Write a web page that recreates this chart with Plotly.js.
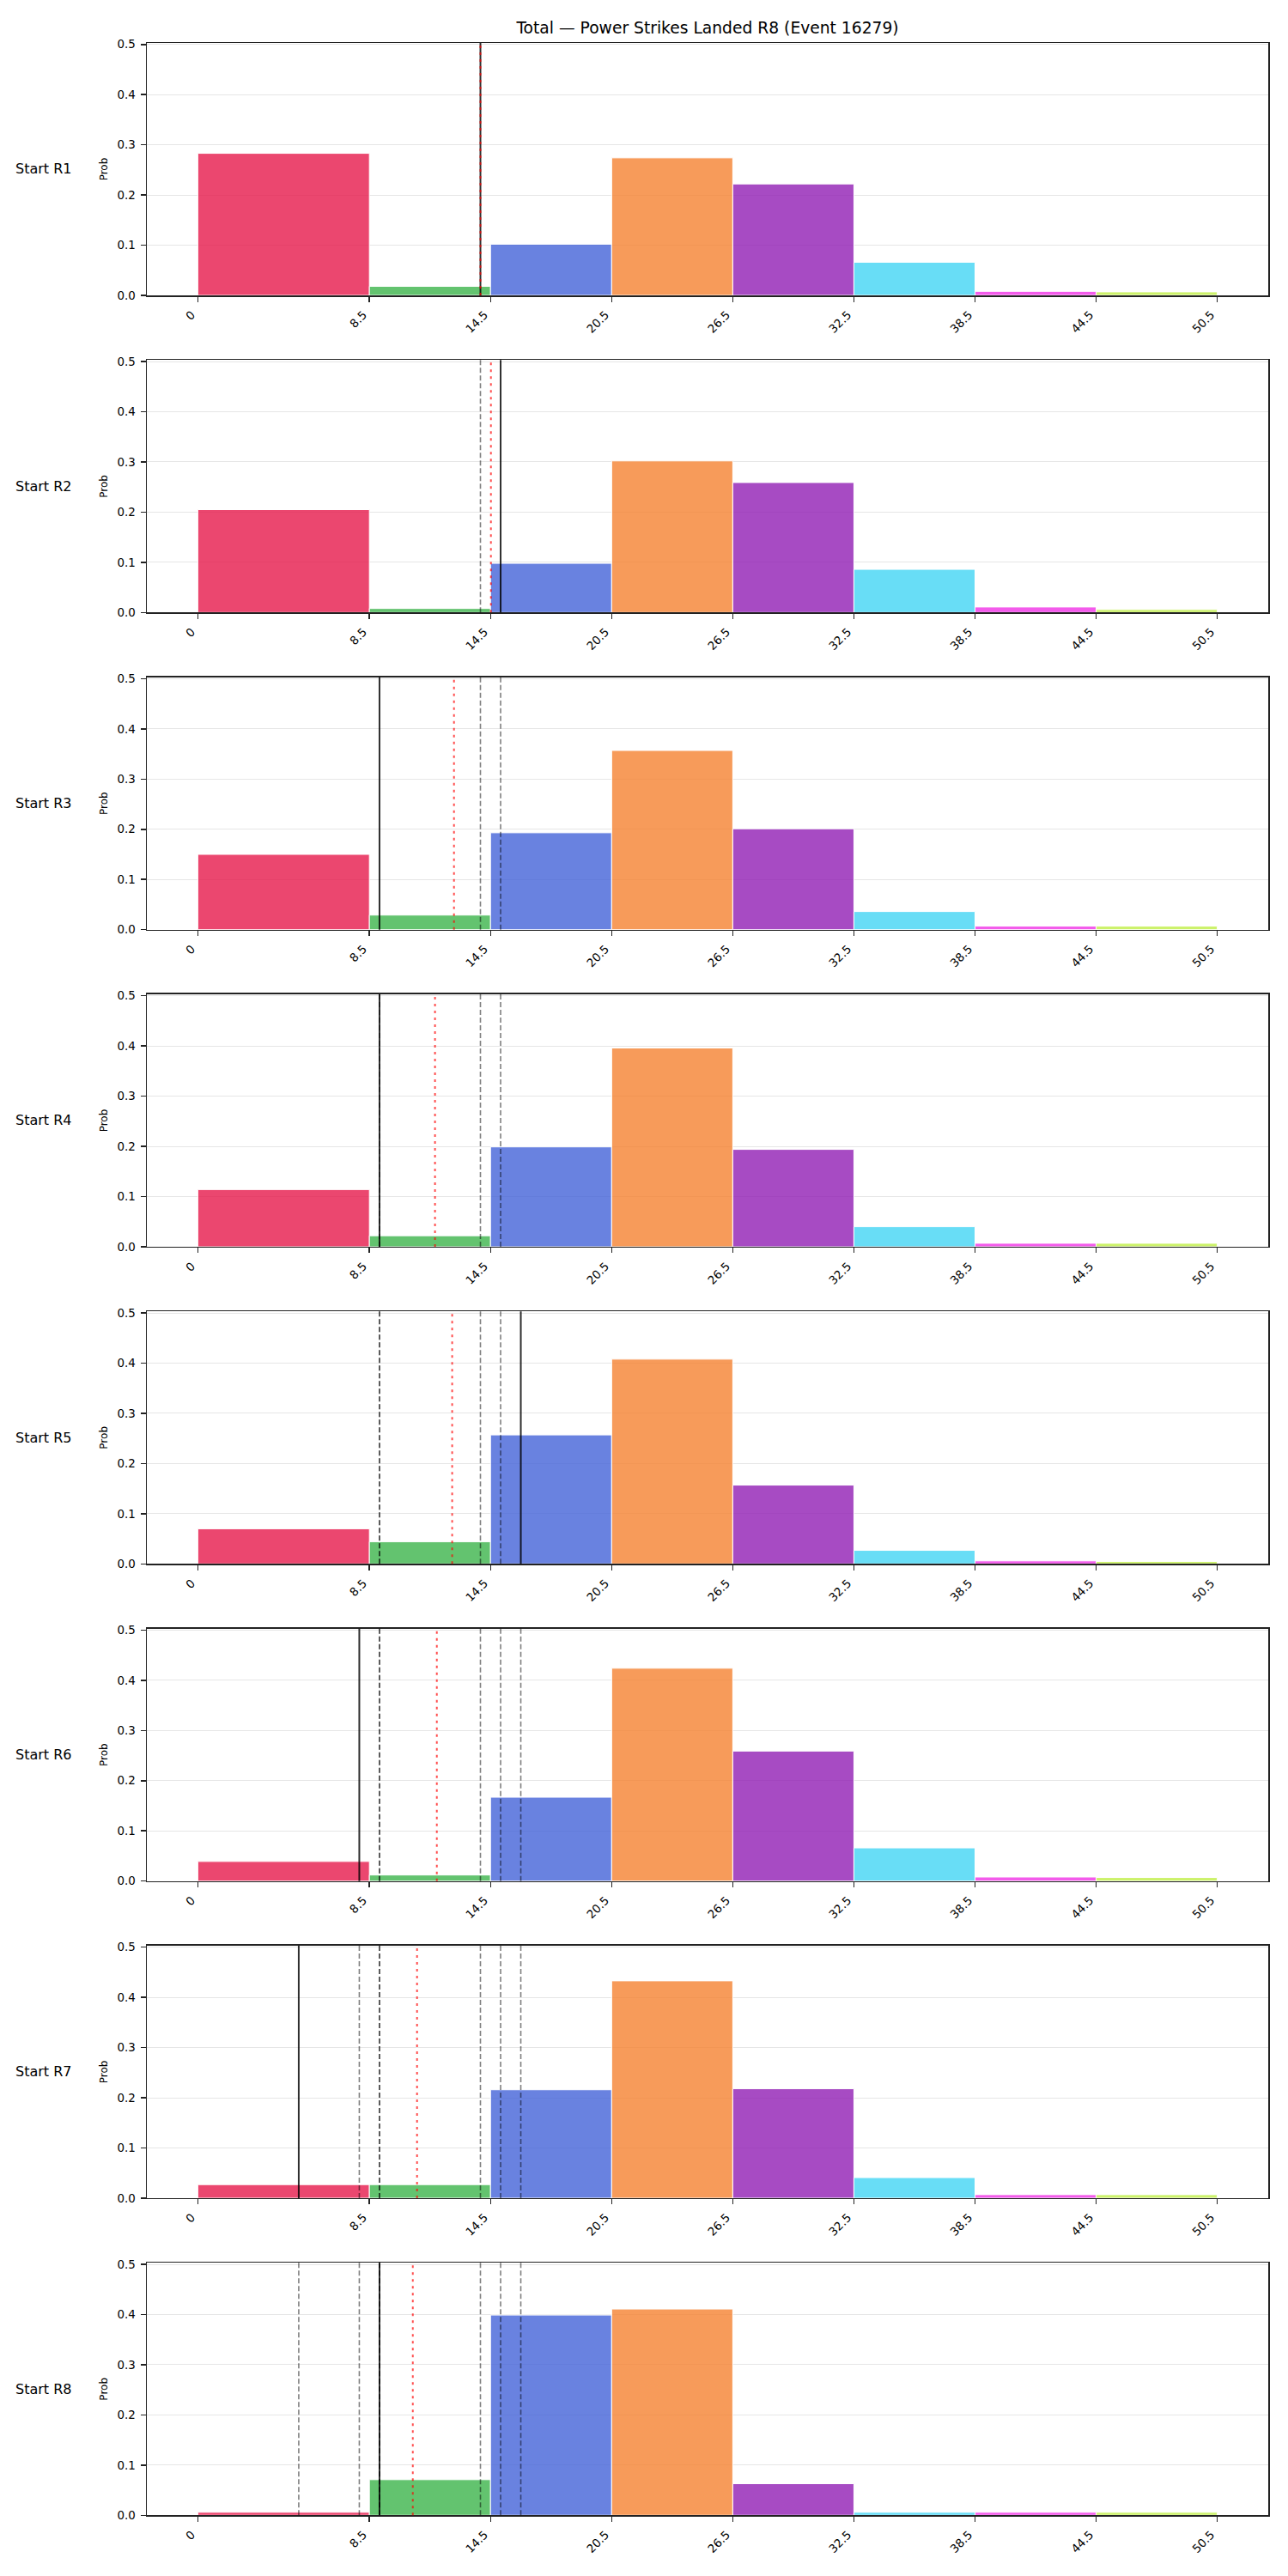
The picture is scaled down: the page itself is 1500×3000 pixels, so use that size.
<!DOCTYPE html>
<html>
<head>
<meta charset="utf-8">
<script src="https://cdn.plot.ly/plotly-3.0.1.min.js"></script>
<style>
  html, body { margin: 0; padding: 0; background: #fff; }
  #chart { width: 1500px; height: 3000px; }
</style>
</head>
<body>
<div id="chart"></div>
<script>
// Bin edges of the strike-count buckets and their tick labels
const binEdges  = [0, 8.5, 14.5, 20.5, 26.5, 32.5, 38.5, 44.5, 50.5];
const binLabels = ['0', '8.5', '14.5', '20.5', '26.5', '32.5', '38.5', '44.5', '50.5'];

// One row per starting round
const roundLabels = ['Start R1', 'Start R2', 'Start R3', 'Start R4', 'Start R5', 'Start R6', 'Start R7', 'Start R8'];

// Probability of each bucket, per starting round
const probR1 = [0.283, 0.018, 0.102, 0.274, 0.222, 0.066, 0.008, 0.007];
const probR2 = [0.205, 0.008, 0.098, 0.302, 0.259, 0.086, 0.011, 0.006];
const probR3 = [0.150, 0.029, 0.193, 0.357, 0.201, 0.036, 0.007, 0.007];
const probR4 = [0.114, 0.022, 0.199, 0.396, 0.194, 0.040, 0.007, 0.007];
const probR5 = [0.070, 0.044, 0.257, 0.408, 0.157, 0.027, 0.006, 0.005];
const probR6 = [0.039, 0.012, 0.167, 0.424, 0.259, 0.066, 0.008, 0.007];
const probR7 = [0.027, 0.027, 0.216, 0.433, 0.218, 0.041, 0.007, 0.007];
const probR8 = [0.006, 0.071, 0.399, 0.411, 0.063, 0.006, 0.006, 0.006];
const roundProbs = [probR1, probR2, probR3, probR4, probR5, probR6, probR7, probR8];

// Marker for each round (solid), earlier rounds' markers are repeated dashed
const roundMarker = [14.0, 15.0, 9.0, 9.0, 16.0, 8.0, 5.0, 9.0];
// Projected line for each round (red dotted)
const projectedLine = [14.0, 14.52, 12.69, 11.75, 12.6, 11.84, 10.86, 10.65];

// Bucket colours
const binColors = ['#e6194b', '#3cb44b', '#4363d8', '#f58231', '#911eb4', '#42d4f4', '#f032e6', '#bfef45'];

const W = 1500, H = 3000;
const padL = 171, padR = 23;
const panelTop0 = 50, panelH = 294, panelStep = 369.33;
const FONT = 'DejaVu Sans, Verdana, sans-serif';

function rgba(hex, a) {
  const n = parseInt(hex.slice(1), 16);
  return `rgba(${(n >> 16) & 255},${(n >> 8) & 255},${n & 255},${a})`;
}

const centers = binEdges.slice(0, -1).map((e, i) => (e + binEdges[i + 1]) / 2);
const widths  = binEdges.slice(0, -1).map((e, i) => binEdges[i + 1] - e);

const traces = [];
const shapes = [];
const annotations = [];
const layout = {
  width: W, height: H,
  margin: { l: padL, r: padR, t: 0, b: 0 },
  paper_bgcolor: '#fff', plot_bgcolor: '#fff',
  font: { family: FONT, color: '#000' },
  showlegend: false,
  title: {
    text: 'Total \u2014 Power Strikes Landed R8 (Event 16279)',
    x: 0.5, xref: 'paper', xanchor: 'center',
    y: 1 - 32 / H, yref: 'container', yanchor: 'middle',
    font: { family: FONT, size: 18.7, color: '#000' }
  }
};

roundProbs.forEach((probs, i) => {
  const ax = i === 0 ? '' : String(i + 1);
  const top = panelTop0 + i * panelStep;
  const yDom = [1 - (top + panelH) / H, 1 - top / H];

  traces.push({
    type: 'bar',
    x: centers, y: probs, width: widths,
    xaxis: 'x' + ax, yaxis: 'y' + ax,
    marker: { color: binColors.map(c => rgba(c, 0.8)), line: { color: '#ffffff', width: 1 } },
    hoverinfo: 'x+y'
  });

  layout['xaxis' + ax] = {
    domain: [0, 1], anchor: 'y' + ax,
    range: [-2.525, 53.025],
    tickmode: 'array', tickvals: binEdges, ticktext: binLabels,
    tickangle: -45,
    ticklabelshift: -7,
    ticklabelstandoff: 2,
    ticks: 'outside', ticklen: 6, tickwidth: 1.5, tickcolor: '#222',
    showline: true, linecolor: '#222', linewidth: 1.5, mirror: true,
    showgrid: false, zeroline: false,
    tickfont: { family: FONT, size: 13.4, color: '#000' },
    fixedrange: true
  };
  layout['yaxis' + ax] = {
    domain: yDom, anchor: 'x' + ax,
    range: [0, 0.503],
    tickmode: 'array', tickvals: [0, 0.1, 0.2, 0.3, 0.4, 0.5],
    tickformat: '.1f',
    ticks: 'outside', ticklen: 6, tickwidth: 1.5, tickcolor: '#222',
    ticklabelstandoff: 3,
    showline: true, linecolor: '#222', linewidth: 1.5, mirror: true,
    showgrid: true, gridcolor: '#e6e6e6', gridwidth: 1, zeroline: false,
    tickfont: { family: FONT, size: 13.4, color: '#000' },
    title: { text: 'Prob', font: { family: FONT, size: 12, color: '#000' }, standoff: 8 },
    fixedrange: true
  };

  const xr = 'x' + ax, yr = 'y' + ax + ' domain';
  // markers of earlier rounds
  for (let j = 0; j < i; j++) {
    shapes.push({
      type: 'line', xref: xr, yref: yr,
      x0: roundMarker[j], x1: roundMarker[j], y0: 0, y1: 1,
      line: { color: 'rgba(0,0,0,0.5)', width: 1.6, dash: '6px,3px' }
    });
  }
  // this round's marker
  shapes.push({
    type: 'line', xref: xr, yref: yr,
    x0: roundMarker[i], x1: roundMarker[i], y0: 0, y1: 1,
    line: { color: 'rgba(0,0,0,0.82)', width: 2 }
  });
  // projected line
  shapes.push({
    type: 'line', xref: xr, yref: yr,
    x0: projectedLine[i], x1: projectedLine[i], y0: 0, y1: 1,
    line: { color: 'rgba(255,0,0,0.7)', width: 2, dash: '3px,5px' }
  });

  annotations.push({
    text: roundLabels[i],
    xref: 'paper', yref: 'paper',
    x: (16 - padL) / (W - padL - padR), xanchor: 'left',
    y: 1 - (top + panelH / 2) / H, yanchor: 'middle',
    showarrow: false,
    font: { family: FONT, size: 16, color: '#000' }
  });
});

layout.shapes = shapes;
layout.annotations = annotations;

Plotly.newPlot('chart', traces, layout, { displayModeBar: false, staticPlot: true });
</script>
</body>
</html>
